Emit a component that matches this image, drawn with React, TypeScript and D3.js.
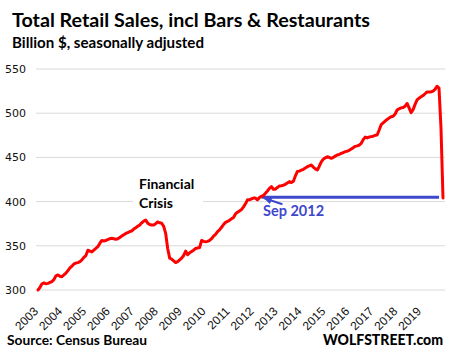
import React from "react";
import * as d3 from "d3";

// Monthly total retail sales (billion $, SA), May 2003 – Apr 2020
const sales: number[] = [
  300, 303, 307, 308, 307, 307.5, 308.5, 309.5, 312, 316, 317, 315.5,
  315, 317, 319, 322, 325, 327, 329.5, 330.5, 331, 332, 334, 337,
  339, 345, 344, 343, 345, 347, 349, 353, 356, 355.5, 356, 357,
  358, 358.5, 358, 357.5, 358, 359.5, 361, 362.5, 364, 365, 366, 367,
  369, 370.5, 372, 373.5, 376, 378, 379, 375.6, 374, 373.5, 373.5, 375,
  377, 376, 375.5, 372, 364, 347, 336, 335, 333, 331, 332, 334,
  336, 339, 344, 340, 342, 343.5, 345, 347, 347.5, 348, 356, 355,
  354.5, 355, 356, 358, 361, 363, 366, 368, 371, 374, 376.5, 377.5,
  379, 380.5, 382, 386, 388, 389.5, 391, 394, 397.5, 402, 402, 403,
  404, 404, 402, 404.5, 406, 407, 409.5, 412, 415, 417, 414, 414,
  416, 417.6, 418, 418.5, 419.5, 421, 422.6, 421.5, 423, 429, 434, 434.5,
  435.5, 436.5, 438, 439.5, 440.5, 441.4, 439, 437, 435.7, 440, 445, 448,
  449.5, 450.8, 450, 449, 450, 451.5, 452.7, 453.5, 454.5, 455.5, 456.5, 457,
  458, 459.5, 461, 462.5, 463, 464, 466, 470, 473, 472, 473, 473.5,
  474, 475, 475.4, 481, 487, 489, 491, 493, 494.5, 496, 496.5, 499,
  503.6, 505, 506, 506.5, 508, 511, 506, 500.6, 504, 510, 515, 517,
  518.5, 520, 522, 524, 524, 524, 525, 527, 530.5, 528.5, 483, 404,
];

const yearLabels = [
  "2003", "2004", "2005", "2006", "2007", "2008", "2009", "2010", "2011",
  "2012", "2013", "2014", "2015", "2016", "2017", "2018", "2019",
];
const yTicks = [300, 350, 400, 450, 500, 550];

const refIndex = 112; // Sep 2012
const refValue = 405;
const refLabel = "Sep 2012";
const crisisLabel = ["Financial", "Crisis"];
const title = "Total Retail Sales, incl Bars & Restaurants";
const subtitle = "Billion $, seasonally adjusted";
const source = "Source: Census Bureau";
const brand = "WOLFSTREET.com";

export default function App() {
  const W = 452;
  const H = 357;
  const x = d3.scaleLinear().domain([0, sales.length - 1]).range([38, 443]);
  const y = d3.scaleLinear().domain([300, 550]).range([290, 69]);
  const line = d3
    .line<number>()
    .x((_, i) => x(i))
    .y((d) => y(d));

  const gridX0 = 36;
  const gridX1 = 445;
  const blue = "#3F48CC";
  const refX = x(refIndex);
  const refY = y(refValue);

  return (
    <svg
      width={W}
      height={H}
      style={{ position: "absolute", left: 0, top: 0, display: "block", background: "#fff" }}
    >
      <defs>
        <marker
          id="arrowHead"
          viewBox="0 0 10 10"
          refX="9"
          refY="5"
          markerWidth="4"
          markerHeight="4"
          orient="auto"
        >
          <path d="M0,0 L10,5 L0,10 z" fill={blue} />
        </marker>
      </defs>
      <rect x={0} y={0} width={W} height={H} fill="#fff" />

      <text
        x={12}
        y={27}
        fontFamily="Lato"
        fontWeight="bold"
        fontSize={19.5}
        fill="#000"
        textLength={358}
        lengthAdjust="spacingAndGlyphs"
      >
        {title}
      </text>
      <text
        x={12}
        y={48}
        fontFamily="Lato"
        fontWeight="bold"
        fontSize={14.5}
        fill="#000"
        textLength={192}
        lengthAdjust="spacingAndGlyphs"
      >
        {subtitle}
      </text>

      {yTicks.map((t) => (
        <g key={t}>
          <line x1={gridX0} x2={gridX1} y1={y(t)} y2={y(t)} stroke="#D9D9D9" strokeWidth={1} />
          <text
            x={26}
            y={y(t)}
            dy="0.36em"
            textAnchor="end"
            fontFamily="DejaVu Sans"
            fontSize={11}
            fill="#111"
          >
            {t}
          </text>
        </g>
      ))}

      {yearLabels.map((lab, k) => {
        const px = x(k * 12);
        return (
          <text
            key={lab}
            transform={`translate(${px + 1},${312}) rotate(-45)`}
            textAnchor="end"
            fontFamily="Liberation Sans"
            fontSize={12}
            fill="#111"
          >
            {lab}
          </text>
        );
      })}

      {/* Financial crisis label with white box */}
      <rect x={133} y={175} width={70} height={37} fill="#fff" />
      <text x={139} y={189} fontFamily="Lato" fontWeight="bold" fontSize={14} fill="#000">
        {crisisLabel[0]}
      </text>
      <text x={139} y={208} fontFamily="Lato" fontWeight="bold" fontSize={14} fill="#000">
        {crisisLabel[1]}
      </text>

      {/* Reference line */}
      <line
        x1={refX}
        x2={x(sales.length - 3)}
        y1={refY}
        y2={refY}
        stroke={blue}
        strokeWidth={3}
      />

      <path
        d={line(sales) || ""}
        fill="none"
        stroke="#FF0000"
        strokeWidth={3}
        strokeLinejoin="round"
        strokeLinecap="round"
      />

      <line
        x1={refX + 21}
        y1={refY + 7}
        x2={refX + 3}
        y2={refY + 1}
        stroke={blue}
        strokeWidth={2}
        markerEnd="url(#arrowHead)"
      />
      <text
        x={263}
        y={216}
        fontFamily="Lato"
        fontWeight="bold"
        fontSize={14.5}
        fill={blue}
      >
        {refLabel}
      </text>

      <text
        x={7}
        y={345}
        fontFamily="Lato"
        fontWeight="bold"
        fontSize={14}
        fill="#000"
        textLength={140}
        lengthAdjust="spacingAndGlyphs"
      >
        {source}
      </text>
      <text
        x={323}
        y={345}
        fontFamily="Lato"
        fontWeight="900"
        fontSize={15}
        fill="#000"
        textLength={120}
        lengthAdjust="spacingAndGlyphs"
      >
        {brand}
      </text>
    </svg>
  );
}
